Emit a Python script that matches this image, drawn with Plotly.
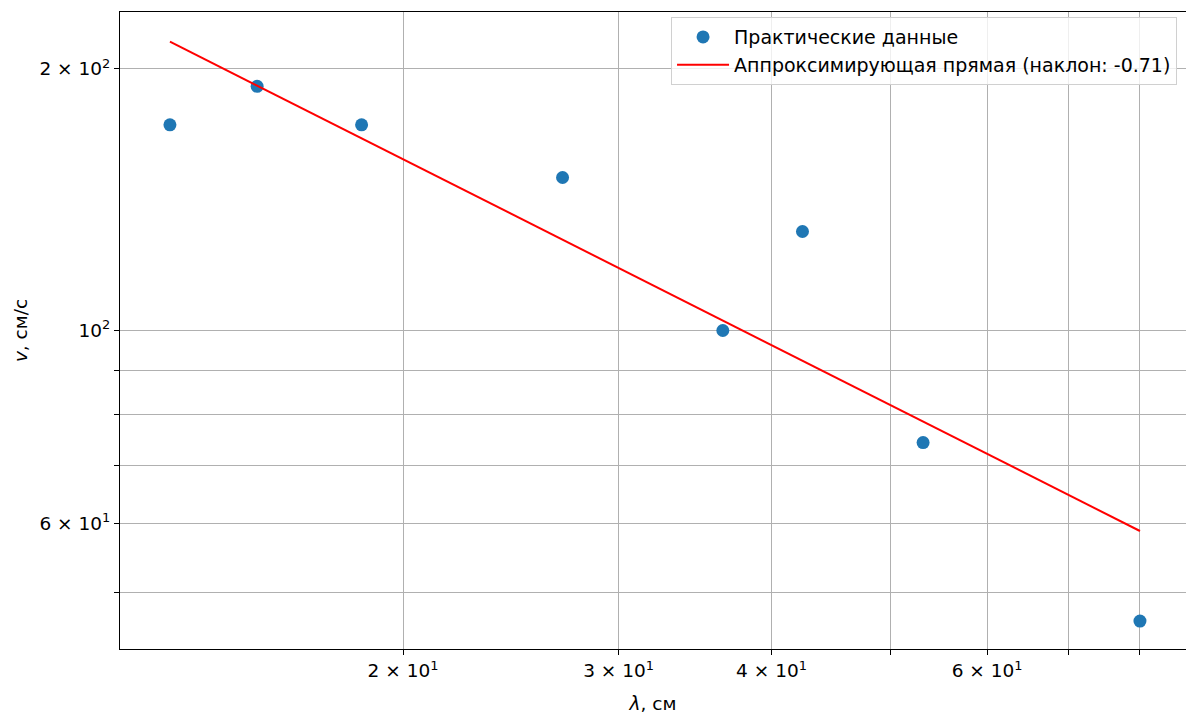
import numpy as np
import plotly.graph_objects as go

# Data
wavelength_cm = [12.9, 15.2, 18.5, 27.0, 36.5, 42.4, 53.2, 80.0]
speed_cm_s = [172.5, 191.0, 172.5, 150.0, 100.0, 130.0, 74.3, 46.3]

x_tick_vals = [20, 30, 40, 50, 60, 70, 80]
x_tick_text = ["2 × 10<sup>1</sup>", "3 × 10<sup>1</sup>", "4 × 10<sup>1</sup>", "",
               "6 × 10<sup>1</sup>", "", ""]
y_tick_vals = [50, 60, 70, 80, 90, 100, 200]
y_tick_text = ["", "6 × 10<sup>1</sup>", "", "", "", "10<sup>2</sup>", "2 × 10<sup>2</sup>"]

# Least-squares fit in log-log space
lx = np.log10(wavelength_cm)
ly = np.log10(speed_cm_s)
slope, intercept = np.polyfit(lx, ly, 1)
fit_x = np.array([min(wavelength_cm), max(wavelength_cm)])
fit_y = 10 ** (intercept + slope * np.log10(fit_x))

FONT = "DejaVu Sans"
FS = 18.5
fig = go.Figure()
fig.add_trace(go.Scatter(
    x=wavelength_cm, y=speed_cm_s, mode="markers", name="Практические данные",
    marker=dict(color="#1f77b4", size=13, line=dict(width=0)),
))
fig.add_trace(go.Scatter(
    x=fit_x, y=fit_y, mode="lines",
    name=f"Аппроксимирующая прямая (наклон: {slope:.2f})",
    line=dict(color="#ff0000", width=2),
))

axis_common = dict(
    showgrid=True, gridcolor="#b0b0b0", gridwidth=1,
    showline=True, linecolor="black", linewidth=1.2,
    ticks="outside", ticklen=5, tickcolor="black", tickwidth=1,
    zeroline=False,
    tickfont=dict(family=FONT, size=FS, color="black"),
    title_font=dict(family=FONT, size=FS, color="black"),
)

fig.update_layout(
    width=1186, height=718,
    margin=dict(l=120, r=0, t=12, b=69, autoexpand=False),
    paper_bgcolor="white", plot_bgcolor="white",
    font=dict(family=FONT, size=FS, color="black"),
    showlegend=True,
    legend=dict(
        x=0.9916, y=0.992, xanchor="right", yanchor="top",
        bgcolor="rgba(255,255,255,0.8)", bordercolor="#d0d0d0", borderwidth=1,
        font=dict(family=FONT, size=19, color="black"),
        itemwidth=52, tracegroupgap=4,
    ),
    xaxis=dict(
        type="log", range=[1.0698, 1.9407], mirror=True,
        tickvals=x_tick_vals, ticktext=x_tick_text,
        title=dict(text="<i>λ</i>, см", standoff=16),
        **axis_common,
    ),
    yaxis=dict(
        type="log", range=[1.6334, 2.3666], mirror=False,
        tickvals=y_tick_vals, ticktext=y_tick_text,
        title=dict(text="<i>v</i>, см/с", standoff=6),
        **axis_common,
    ),
)

fig.write_html("out.html", config={"displayModeBar": False},
               post_script="document.body.style.margin='0';")
